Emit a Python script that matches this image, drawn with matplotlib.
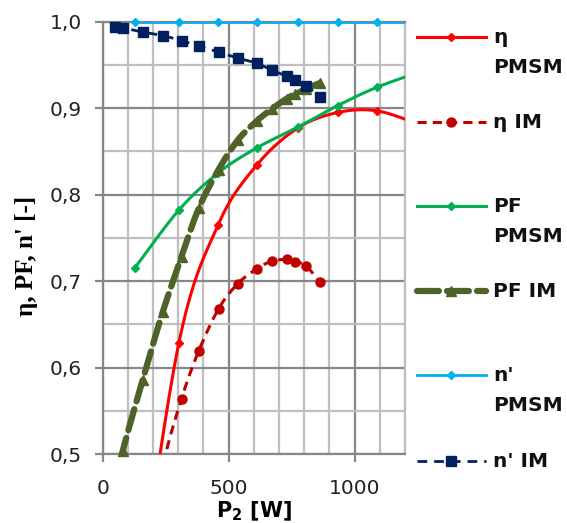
import numpy as np
import matplotlib
matplotlib.use("Agg")
import matplotlib.pyplot as plt
from matplotlib.lines import Line2D
from matplotlib.ticker import MultipleLocator, FuncFormatter

# measured points (P2 in W)
p_pmsm = [127, 302, 458, 611, 774, 933, 1087, 1250]
eta_pmsm = [0.30, 0.628, 0.765, 0.834, 0.877, 0.895, 0.897, 0.882]
pf_pmsm = [0.715, 0.782, 0.825, 0.854, 0.878, 0.903, 0.924, 0.941]
n_pmsm = [1.0, 1.0, 1.0, 1.0, 1.0, 1.0, 1.0, 1.0]

p_im = [48, 79, 159, 238, 313, 381, 460, 536, 611, 671, 730, 762, 806, 861]
eta_im = [None, None, 0.36, 0.485, 0.564, 0.619, 0.668, 0.697, 0.714, 0.723,
          0.725, 0.722, 0.718, 0.699]
pf_im = [0.46, 0.503, 0.586, 0.664, 0.728, 0.784, 0.829, 0.863, 0.885, 0.899,
         0.911, 0.916, 0.922, 0.929]
n_im = [0.994, 0.993, 0.988, 0.984, 0.978, 0.972, 0.965, 0.958, 0.952, 0.944,
        0.937, 0.932, 0.926, 0.913]

labels = ["η\nPMSM", "η IM", "PF\nPMSM", "PF IM", "n'\nPMSM", "n' IM"]

W, H = 567, 523


def smooth(x, y, n=30):
    # excel-like smoothed line (bezier, control points from neighbours)
    x = np.asarray(x, float)
    y = np.asarray(y, float)
    px = np.concatenate([[x[0]], x, [x[-1]]])
    py = np.concatenate([[y[0]], y, [y[-1]]])
    t = np.linspace(0, 1, n)[:, None]
    out = []
    for i in range(1, len(px) - 2):
        p0 = np.array([px[i], py[i]])
        p3 = np.array([px[i + 1], py[i + 1]])
        c1 = p0 + (np.array([px[i + 1], py[i + 1]]) - np.array([px[i - 1], py[i - 1]])) / 6
        c2 = p3 - (np.array([px[i + 2], py[i + 2]]) - np.array([px[i], py[i]])) / 6
        seg = ((1 - t) ** 3) * p0 + 3 * ((1 - t) ** 2) * t * c1 + 3 * (1 - t) * t ** 2 * c2 + t ** 3 * p3
        out.append(seg)
    s = np.vstack(out)
    return s[:, 0], s[:, 1]


fig = plt.figure(figsize=(W / 100, H / 100), dpi=100)
ax = fig.add_axes([102.7 / W, (H - 454) / H, 302.3 / W, 432.3 / H])

series = [
    (p_pmsm, eta_pmsm, dict(color="#ff0000", lw=2.2), dict(marker="D", ms=4.5)),
    (p_im, eta_im, dict(color="#c00000", lw=2.2, dashes=(3, 2)), dict(marker="o", ms=6.5)),
    (p_pmsm, pf_pmsm, dict(color="#00b050", lw=2.2), dict(marker="D", ms=4.5)),
    (p_im, pf_im, dict(color="#4f6228", lw=4.5, dashes=(3.5, 1.3), dash_capstyle="round"),
     dict(marker="^", ms=7.5)),
    (p_pmsm, n_pmsm, dict(color="#00b0f0", lw=2.0), dict(marker="D", ms=4.5)),
    (p_im, n_im, dict(color="#002060", lw=2.0, dashes=(3.5, 2.5)), dict(marker="s", ms=7)),
]

for i, (xs, ys, lstyle, mstyle) in enumerate(series):
    xv = np.array([a for a, b in zip(xs, ys) if b is not None], float)
    yv = np.array([b for b in ys if b is not None], float)
    sx, sy = smooth(xv, yv)
    ax.plot(sx, sy, zorder=3 + i, solid_capstyle="round", **lstyle)
    m = (xv >= 0) & (xv <= 1200) & (yv >= 0.5) & (yv <= 1.0)
    ax.plot(xv[m], yv[m], ls="none", color=lstyle["color"], zorder=3 + i,
            clip_on=False, **mstyle)

ax.set_xlim(0, 1200)
ax.set_ylim(0.5, 1.0)
ax.xaxis.set_major_locator(MultipleLocator(500))
ax.xaxis.set_minor_locator(MultipleLocator(100))
ax.yaxis.set_major_locator(MultipleLocator(0.1))
ax.yaxis.set_minor_locator(MultipleLocator(0.05))
ax.yaxis.set_major_formatter(FuncFormatter(lambda v, p: f"{v:.1f}".replace(".", ",")))

ax.grid(which="major", color="#878787", lw=1.6)
ax.grid(which="minor", color="#bfbfbf", lw=1.6)
ax.set_axisbelow(True)
for side in ["left", "bottom", "top"]:
    ax.spines[side].set_color("#878787")
    ax.spines[side].set_linewidth(1.6)
ax.spines["right"].set_color("#bfbfbf")
ax.spines["right"].set_linewidth(1.6)
ax.tick_params(which="major", length=5.8, width=1.6, color="#878787",
               labelsize=14.5, labelcolor="#222222")
ax.tick_params(which="minor", length=0)
ax.tick_params(axis="y", pad=9)
ax.tick_params(axis="x", pad=12)

fig.text(27 / W, 1 - 256 / H, "η, PF, n' [-]", rotation=90, ha="center", va="center",
         fontsize=18, fontweight="bold", family=["Liberation Serif", "DejaVu Serif"])
plt.rcParams["mathtext.fontset"] = "dejavusans"
fig.text(254 / W, 6 / H, r"P$_\mathbf{2}$ [W]", ha="center", va="baseline",
         fontsize=15, fontweight="bold")

# legend drawn by hand so the key sits on the first text line
leg_y = [37, 122, 206, 291, 375, 461]
for (xs, ys, lstyle, mstyle), lab, yy in zip(series, labels, leg_y):
    yf = 1 - yy / H
    fig.add_artist(Line2D([417 / W, 486 / W], [yf, yf], transform=fig.transFigure,
                          **lstyle))
    fig.add_artist(Line2D([451 / W], [yf], transform=fig.transFigure, ls="none",
                          color=lstyle["color"], **mstyle))
    fig.text(493 / W, 1 - (yy - 9) / H, lab, ha="left", va="top", fontsize=14.5,
             fontweight="bold", linespacing=1.75, color="#111111")

fig.savefig("out.png", dpi=100)
